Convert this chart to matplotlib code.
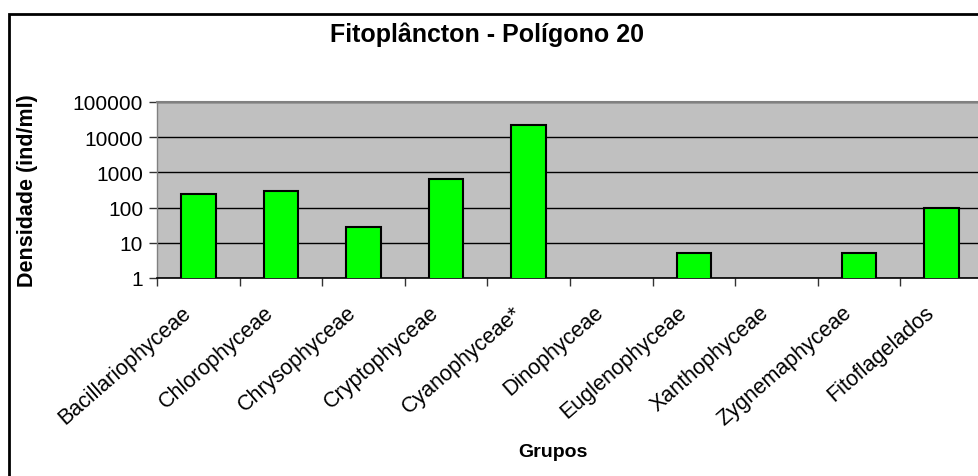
import numpy as np
import matplotlib.pyplot as plt
import matplotlib.transforms as mtransforms
from matplotlib.patches import Rectangle

plt.rcParams['font.family'] = ['Liberation Sans', 'DejaVu Sans']

grupos = ['Bacillariophyceae', 'Chlorophyceae', 'Chrysophyceae', 'Cryptophyceae',
          'Cyanophyceae*', 'Dinophyceae', 'Euglenophyceae', 'Xanthophyceae',
          'Zygnemaphyceae', 'Fitoflagelados']
densidade = [245, 296, 28, 635, 22000, 0, 5, 0, 5, 100]
yticks = [1, 10, 100, 1000, 10000, 100000]
ytick_labels = ['1', '10', '100', '1000', '10000', '100000']

W, H = 979, 477
fig = plt.figure(figsize=(W / 100, H / 100), dpi=100)
ax = fig.add_axes([157 / W, 1 - 279 / H, (983 - 157) / W, (279 - 103) / H])

x = np.arange(len(grupos))
vals = np.array(densidade, dtype=float)
mask = vals > 0
ax.bar(x[mask], vals[mask], width=0.42, color='#00FF00', edgecolor='black',
       linewidth=1.5, zorder=3)

ax.set_yscale('log')
ax.set_ylim(1, 100000)
ax.set_xlim(-0.5, len(grupos) - 0.5)
ax.set_facecolor('#C0C0C0')
ax.set_yticks(yticks)
ax.set_yticklabels(ytick_labels, fontsize=15)
ax.yaxis.set_minor_locator(plt.NullLocator())
ax.grid(axis='y', color='black', linewidth=1, zorder=1)
ax.set_axisbelow(True)

# ticks between categories, labels at centres
ax.set_xticks(x - 0.5, minor=False)
ax.set_xticklabels([''] * len(grupos))
ax.set_xticks(x, minor=True)
ax.set_xticklabels(grupos, minor=True, rotation=41, ha='right', va='top',
                   rotation_mode='anchor', fontsize=15.5)
ax.tick_params(axis='x', which='minor', length=0, pad=17)
ax.tick_params(axis='x', which='major', length=6, width=1, color='#333333')
ax.tick_params(axis='y', length=6, width=1, color='#333333', pad=4)
shift = mtransforms.ScaledTranslation(-17 / 100, 0, fig.dpi_scale_trans)
for lab in ax.get_xticklabels(minor=True):
    lab.set_transform(lab.get_transform() + shift)

for s in ['left', 'right']:
    ax.spines[s].set_color('#808080')
    ax.spines[s].set_linewidth(1)
ax.spines['top'].set_color('#808080')
ax.spines['top'].set_linewidth(1.5)
ax.spines['bottom'].set_color('black')
ax.spines['bottom'].set_linewidth(1.2)

ax.set_ylabel('Densidade (ind/ml)', fontsize=15.5, fontweight='bold')
ax.yaxis.set_label_coords(-(157 - 38) / (983 - 157), 0.5)
fig.text(553 / W, 1 - 453 / H, 'Grupos', fontsize=14, fontweight='bold',
         ha='center', va='center')
fig.text(487 / W, 1 - 35 / H, 'Fitoplâncton - Polígono 20', fontsize=18,
         fontweight='bold', ha='center', va='center')

fig.patches.append(Rectangle((9 / W, -0.1), 1.2, 1 - 15 / H + 0.1,
                             transform=fig.transFigure, fill=False,
                             edgecolor='black', linewidth=2))

fig.savefig('out.png', dpi=100)
